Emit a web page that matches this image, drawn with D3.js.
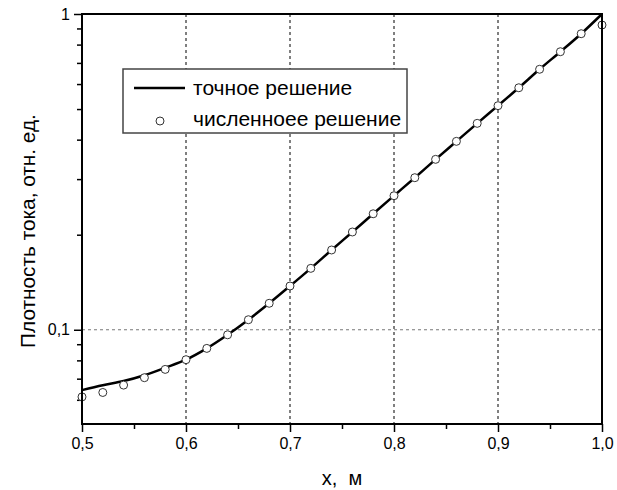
<!DOCTYPE html>
<html><head><meta charset="utf-8">
<script src="https://cdn.jsdelivr.net/npm/d3@7"></script>
<style>body{margin:0;background:#fff}text{font-family:"Liberation Sans",Arial,sans-serif}</style>
</head><body><svg id="c" width="617" height="490"></svg>
<script>
const xs = [0.50,0.52,0.54,0.56,0.58,0.60,0.62,0.64,0.66,0.68,0.70,0.72,0.74,0.76,0.78,0.80,0.82,0.84,0.86,0.88,0.90,0.92,0.94,0.96,0.98,1.00];
const exact = [0.0644,0.0667,0.0688,0.0718,0.0758,0.0804,0.0873,0.0964,0.1076,0.1213,0.1376,0.1565,0.1789,0.2040,0.2330,0.2658,0.3031,0.3465,0.3951,0.4505,0.5125,0.5840,0.6683,0.7596,0.8661,1.0];
const numeric = [0.0613,0.0633,0.0668,0.0705,0.0749,0.0804,0.0873,0.0964,0.1076,0.1213,0.1376,0.1565,0.1789,0.2040,0.2330,0.2658,0.3031,0.3465,0.3951,0.4505,0.5125,0.5840,0.6683,0.7596,0.8661,0.9229];
const xMajor = [0.5,0.6,0.7,0.8,0.9,1.0];
const xMinor = [0.55,0.65,0.75,0.85,0.95];
const yMajor = [0.1,1];
const yMinor = [0.06,0.07,0.08,0.09,0.2,0.3,0.4,0.5,0.6,0.7,0.8,0.9];
const xGrid = [0.6,0.7,0.8,0.9];
const yGrid = [0.1];
const legendLabels = ["точное решение","численноее решение"];
const xTitle = "х,  м";
const yTitle = "Плотность тока, отн. ед.";

const svg = d3.select("#c");
const L=82,R=602,T=14,B=424;
const x = d3.scaleLinear().domain([0.5,1.0]).range([L,R]);
const y = d3.scaleLog().domain([0.0503,1]).range([B,T]);
const fmt = d => d3.format(".1f")(d).replace(".",",");

// grid
svg.append("g").selectAll("line").data(xGrid).join("line")
  .attr("x1",d=>x(d)).attr("x2",d=>x(d)).attr("y1",T).attr("y2",B)
  .attr("stroke","#000").attr("stroke-width",1).attr("stroke-dasharray","3,3");
svg.append("g").selectAll("line").data(yGrid).join("line")
  .attr("x1",L).attr("x2",R).attr("y1",d=>y(d)).attr("y2",d=>y(d))
  .attr("stroke","#777").attr("stroke-width",1).attr("stroke-dasharray","3,3");

// axes
const xAx = svg.append("g").attr("transform",`translate(0,${B})`)
  .call(d3.axisBottom(x).tickValues(xMajor).tickFormat(fmt).tickSize(8).tickPadding(6));
const xAxMin = svg.append("g").attr("transform",`translate(0,${B})`)
  .call(d3.axisBottom(x).tickValues(xMinor).tickFormat("").tickSize(5));
const yAx = svg.append("g").attr("transform",`translate(${L},0)`)
  .call(d3.axisLeft(y).tickValues(yMajor).tickFormat(d=>d===1?"1":"0,1").tickSize(8).tickPadding(4));
const yAxMin = svg.append("g").attr("transform",`translate(${L},0)`)
  .call(d3.axisLeft(y).tickValues(yMinor).tickFormat("").tickSize(5));
[xAx,xAxMin,yAx,yAxMin].forEach(g=>{
  g.select(".domain").remove();
  g.selectAll("line").attr("stroke","#000").attr("stroke-width",1.5);
  g.selectAll("text").attr("font-size",16).attr("fill","#000").style("font-family","Liberation Sans, Arial, sans-serif");
});

// line
const line = d3.line().x((d,i)=>x(xs[i])).y(d=>y(d)).curve(d3.curveMonotoneX);
svg.append("path").datum(exact).attr("d",line).attr("fill","none")
  .attr("stroke","#000").attr("stroke-width",2.5);

// points
svg.append("g").selectAll("circle").data(numeric).join("circle")
  .attr("cx",(d,i)=>x(xs[i])).attr("cy",d=>y(d)).attr("r",4)
  .attr("fill","#fff").attr("stroke","#333").attr("stroke-width",1);

// frame
svg.append("rect").attr("x",L).attr("y",T).attr("width",R-L).attr("height",B-T)
  .attr("fill","none").attr("stroke","#000").attr("stroke-width",2);

// legend
const lg = svg.append("g");
lg.append("rect").attr("x",123).attr("y",69).attr("width",284).attr("height",64)
  .attr("fill","#fff").attr("stroke","#444").attr("stroke-width",1.5);
lg.append("line").attr("x1",134).attr("x2",185).attr("y1",88).attr("y2",88)
  .attr("stroke","#000").attr("stroke-width",2.5);
lg.append("circle").attr("cx",160).attr("cy",121).attr("r",4)
  .attr("fill","#fff").attr("stroke","#333").attr("stroke-width",1);
lg.selectAll("text").data(legendLabels).join("text")
  .attr("x",193).attr("y",(d,i)=>95+i*30.5).attr("font-size",21).attr("fill","#000").text(d=>d);

// titles
svg.append("text").attr("x",342).attr("y",485).attr("text-anchor","middle")
  .attr("font-size",20).attr("fill","#000").style("white-space","pre").text(xTitle);
svg.append("text").attr("transform","translate(35,231) rotate(-90)").attr("text-anchor","middle")
  .attr("font-size",20.8).attr("fill","#000").text(yTitle);
</script></body></html>
